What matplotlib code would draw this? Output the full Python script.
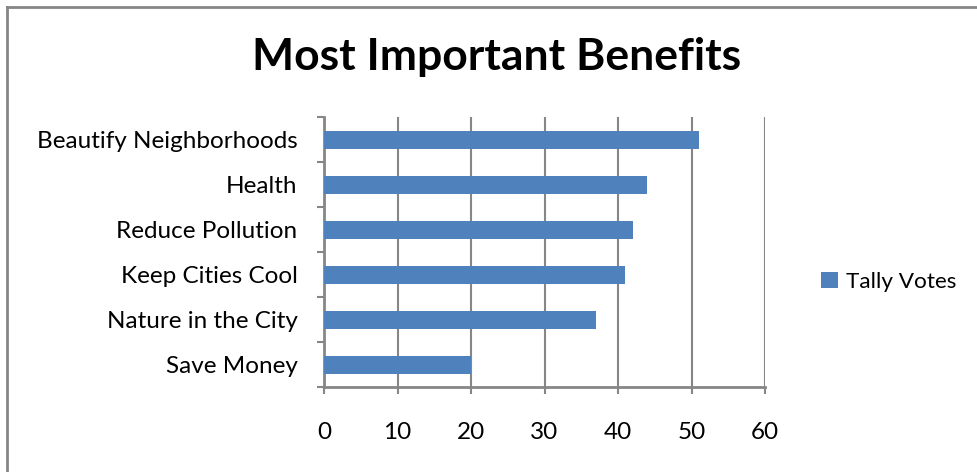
import matplotlib
matplotlib.use("Agg")
import matplotlib.pyplot as plt
from matplotlib.lines import Line2D
from matplotlib.patches import Patch

categories = ["Beautify Neighborhoods", "Health", "Reduce Pollution",
              "Keep Cities Cool", "Nature in the City", "Save Money"]
values = [51, 44, 42, 41, 37, 20]
xticks = [0, 10, 20, 30, 40, 50, 60]
series_name = "Tally Votes"
title = "Most Important Benefits"

plt.rcParams['font.family'] = ['Lato', 'DejaVu Sans']

W, H = 977, 472
fig = plt.figure(figsize=(W / 100, H / 100), dpi=100)
ax = fig.add_axes([324 / W, (H - 387) / H, (765 - 324) / W, (387 - 117) / H])

bar_color = "#4F81BD"
grid_color = "#868686"
n = len(categories)
ypos = list(range(n))[::-1]
ax.barh(ypos, values, height=0.4, color=bar_color, zorder=3)

ax.set_xlim(0, 60)
ax.set_ylim(-0.5, n - 0.5)
ax.set_xticks(xticks)
ax.set_xticklabels([str(t) for t in xticks], fontsize=17.5)
ax.set_yticks(ypos)
ax.set_yticklabels(categories, fontsize=17.5)
ax.tick_params(axis='y', length=0, pad=19)
ax.tick_params(axis='x', length=5, width=1.5, color=grid_color, pad=20)
# category boundary ticks
ax.set_yticks([i - 0.5 for i in range(n + 1)], minor=True)
ax.tick_params(axis='y', which='minor', length=5, width=1.5, color=grid_color)

ax.grid(axis='x', color=grid_color, linewidth=1.5, zorder=0)
for s in ["top", "right"]:
    ax.spines[s].set_visible(False)
for s in ["left", "bottom"]:
    ax.spines[s].set_color(grid_color)
    ax.spines[s].set_linewidth(2)

fig.text(497 / W, 1 - 57 / H, title, fontsize=32, fontweight='bold',
         ha='center', va='center')

handles = [Patch(facecolor=bar_color, edgecolor='none', label=series_name)]
fig.legend(handles=handles, loc='center left', bbox_to_anchor=(801 / W, 1 - 282 / H),
           frameon=False, fontsize=16.2, handlelength=0.75, handleheight=0.75,
           handletextpad=0.35)

# outer border (left and top visible)
fig.add_artist(Line2D([6.5 / W, 6.5 / W], [0, 1 - 6.5 / H], color=grid_color,
                      linewidth=2, transform=fig.transFigure))
fig.add_artist(Line2D([6.5 / W, 1], [1 - 6.5 / H, 1 - 6.5 / H], color=grid_color,
                      linewidth=2, transform=fig.transFigure))

fig.savefig("out.png", dpi=100)
